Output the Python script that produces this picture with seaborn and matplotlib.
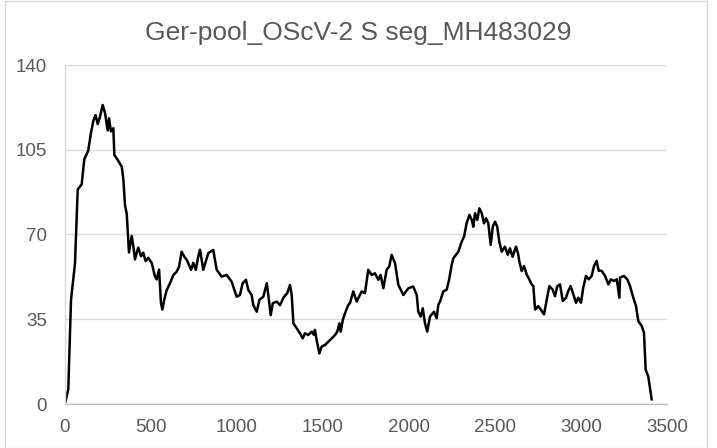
import matplotlib
matplotlib.use('Agg')
import matplotlib.pyplot as plt
from matplotlib.patches import Rectangle
import seaborn as sns
import pandas as pd

# coverage along the S segment
positions = [1, 19, 35, 58, 74, 97, 112, 135, 151, 165,
             178, 190, 203, 219, 233, 248, 256, 267, 281, 287,
             301, 330, 339, 349, 359, 372, 388, 397, 407, 417,
             426, 442, 455, 469, 484, 504, 523, 533, 547, 558,
             566, 577, 591, 610, 630, 649, 663, 678, 694, 708,
             721, 733, 746, 760, 775, 785, 804, 833, 862, 882,
             911, 940, 969, 998, 1017, 1033, 1052, 1066, 1085, 1095,
             1115, 1130, 1153, 1173, 1182, 1196, 1208, 1231, 1250, 1273,
             1292, 1308, 1318, 1328, 1347, 1366, 1382, 1395, 1415, 1434,
             1448, 1453, 1463, 1479, 1492, 1512, 1531, 1551, 1570, 1583,
             1595, 1603, 1615, 1628, 1647, 1657, 1676, 1696, 1725, 1744,
             1763, 1783, 1802, 1822, 1835, 1851, 1870, 1885, 1899, 1919,
             1938, 1967, 1996, 2025, 2045, 2054, 2068, 2080, 2093, 2106,
             2122, 2145, 2161, 2170, 2184, 2199, 2219, 2233, 2248, 2258,
             2287, 2306, 2320, 2335, 2351, 2365, 2374, 2384, 2397, 2409,
             2423, 2436, 2448, 2461, 2475, 2487, 2500, 2513, 2525, 2539,
             2558, 2574, 2587, 2602, 2622, 2636, 2641, 2655, 2669, 2684,
             2699, 2713, 2723, 2733, 2752, 2772, 2785, 2801, 2816, 2835,
             2849, 2862, 2878, 2894, 2913, 2926, 2940, 2952, 2971, 2984,
             3000, 3013, 3029, 3045, 3062, 3076, 3091, 3103, 3120, 3140,
             3159, 3174, 3192, 3208, 3223, 3227, 3250, 3269, 3285, 3301,
             3320, 3333, 3353, 3366, 3376, 3391, 3411]
coverage = [0.5, 6, 43, 58, 88.6, 90.7, 101, 104.6, 112, 117,
            119.3, 115.6, 118.5, 123.5, 120, 113, 118, 112.6, 113.9, 102.8,
            101.4, 98, 93, 82, 78.5, 62.6, 69.4, 65.3, 59.7, 62.5,
            64.6, 61, 62.5, 59, 60.4, 58.3, 52.7, 51.4, 55.5, 41.7,
            39, 43, 47, 49.8, 53.3, 54.6, 56.7, 62.9, 60.8, 59.5,
            57.4, 55.4, 58.3, 55.4, 61, 63.7, 55.4, 62.3, 63.6, 55.4,
            52.6, 53.3, 50.5, 44.3, 45, 49.9, 51.3, 47.1, 45, 40.8,
            38.1, 43, 44.3, 49.9, 45, 36.7, 41.6, 42.3, 40.8, 44.3,
            45.7, 49.2, 45, 33.3, 31.3, 29.2, 27.1, 29.2, 28.5, 29.9,
            28.5, 30.6, 26.4, 20.9, 23.7, 24.4, 25.7, 27.1, 28.5, 29.9,
            33.3, 29.9, 34.7, 37.5, 40.9, 41.7, 46.5, 42.3, 46.5, 45.8,
            55.4, 53.3, 54, 51.3, 53.3, 47.8, 55.4, 56.8, 61.6, 58.1,
            49.2, 45, 47.8, 48.5, 45, 38.1, 36.1, 39.5, 33.3, 29.9,
            36.1, 38.1, 35.4, 40.8, 43, 46.5, 47.2, 51.3, 57.4, 60.2,
            62.9, 67, 69.1, 74.6, 78.1, 76, 73.2, 78.8, 76, 80.8,
            78.8, 74.6, 76.7, 74.6, 65.7, 73.2, 75.3, 73.2, 67, 62.9,
            65, 61.6, 64.3, 60.8, 65, 61.6, 59, 54.9, 57, 53.5,
            51.5, 49.4, 48.7, 39, 40.4, 38.4, 37, 43.2, 48.7, 47.3,
            44.5, 48.7, 49.4, 42.5, 43.9, 46.7, 48.7, 46, 41.8, 43.9,
            41.8, 48, 52.9, 51.5, 52.9, 57, 59.1, 55, 55, 52.9,
            49.4, 51.5, 50.8, 51.5, 43.9, 52.2, 52.9, 51.5, 48.7, 44.6,
            40.4, 34.3, 32.2, 29.4, 14.2, 11.4, 1.8]

x_ticks = [0, 500, 1000, 1500, 2000, 2500, 3000, 3500]
y_ticks = [0, 35, 70, 105, 140]
title = 'Ger-pool_OScV-2 S seg_MH483029'

df = pd.DataFrame({'pos': positions, 'cov': coverage})

sns.set_style('white')
plt.rcParams['font.family'] = ['Liberation Sans', 'DejaVu Sans']

fig = plt.figure(figsize=(7.17, 4.48), dpi=100)
ax = fig.add_axes([65 / 717, 1 - 404 / 448, 602 / 717, 339 / 448])

sns.lineplot(data=df, x='pos', y='cov', color='black', linewidth=1.8, ax=ax)

ax.set_xlim(0, 3500)
ax.set_ylim(0, 140)
ax.set_xticks(x_ticks)
ax.set_yticks(y_ticks)
ax.set_xlabel('')
ax.set_ylabel('')
ax.grid(axis='y', color='#D9D9D9', linewidth=1)
ax.set_axisbelow(True)
for s in ['top', 'right']:
    ax.spines[s].set_visible(False)
ax.spines['left'].set_color('#D9D9D9')
ax.spines['bottom'].set_color('#BFBFBF')
ax.spines['left'].set_linewidth(1)
ax.spines['bottom'].set_linewidth(1)
ax.tick_params(axis='both', length=0, labelsize=13.5, labelcolor='#595959')
ax.tick_params(axis='y', pad=13)
ax.tick_params(axis='x', pad=11)

fig.text(0.5, 1 - 33 / 448, title, ha='center', va='center',
         fontsize=19, color='#595959')

fig.patches.append(Rectangle((4.5 / 717, 0.5 / 448), 702.5 / 717, 446.5 / 448,
                             transform=fig.transFigure, fill=False,
                             edgecolor='#D9D9D9', linewidth=1))

fig.savefig('out.png', dpi=100)
